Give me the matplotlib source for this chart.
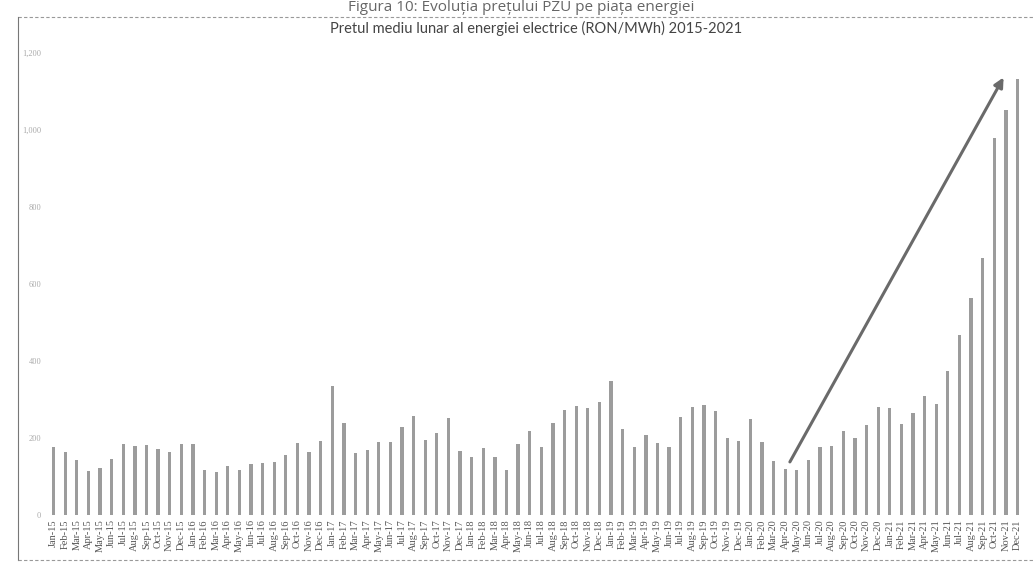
import matplotlib.pyplot as plt
from matplotlib.lines import Line2D

# month labels Jan-15 .. Dec-21
months = ["Jan", "Feb", "Mar", "Apr", "May", "Jun",
          "Jul", "Aug", "Sep", "Oct", "Nov", "Dec"]
years = ["15", "16", "17", "18", "19", "20", "21"]
labels = [m + "-" + y for y in years for m in months]

# average monthly price, RON/MWh
prices = [
    177, 164, 143, 115, 121, 145, 184, 179, 183, 172, 163, 184,   # 2015
    184, 117, 112, 127, 117, 132, 136, 138, 156, 187, 164, 191,   # 2016
    335, 238, 162, 169, 189, 190, 228, 257, 195, 214, 252, 166,   # 2017
    151, 173, 151, 117, 184, 217, 177, 238, 272, 283, 278, 294,   # 2018
    348, 224, 177, 209, 186, 177, 255, 280, 285, 270, 201, 192,   # 2019
    250, 190, 141, 120, 117, 143, 177, 179, 219, 201, 233, 280,   # 2020
    277, 237, 266, 310, 289, 373, 467, 562, 668, 977, 1051, 1132, # 2021
]

yticks = [0, 200, 400, 600, 800, 1000, 1200]

# trend arrow (start and end in data units)
arrow_start = (63.4, 138)
arrow_end = (81.8, 1135)

fig = plt.figure(figsize=(10.33, 5.63), dpi=100)
ax = fig.add_axes([0.044, 0.085, 0.95, 0.822])

x = range(len(prices))
ax.bar(x, prices, width=0.28, color="#9c9c9c")

ax.set_xlim(-0.7, len(prices) - 0.2)
ax.set_ylim(0, 1200)
ax.set_xticks(list(x))
ax.set_xticklabels(labels, rotation=90, fontsize=7.5, family="Liberation Serif",
                   color="#555555")
ax.set_yticks(yticks)
ax.set_yticklabels([f"{v:,}" for v in yticks], fontsize=6, family="Liberation Serif",
                   color="#aaaaaa")
ax.tick_params(length=0, pad=3)
for s in ax.spines.values():
    s.set_visible(False)

ax.annotate("", xy=arrow_end, xytext=arrow_start,
            arrowprops=dict(arrowstyle="-|>", color="#6a6a6a", lw=2.2,
                            mutation_scale=14, shrinkA=0, shrinkB=0))

ax.set_title("Pretul mediu lunar al energiei electrice (RON/MWh) 2015-2021",
             fontsize=10.5, family="Lato", color="#444444", pad=14)

# scanned page frame and caption at the top edge
fig.text(0.505, 1.0, "Figura 10: Evoluția prețului PZU pe piața energiei",
         ha="center", va="top", fontsize=11, family="Open Sans", color="#666666")
fig.add_artist(Line2D([18 / 1033, 1.0], [1 - 17 / 563] * 2, color="#999999",
                      lw=0.8, ls=(0, (3, 2))))
fig.add_artist(Line2D([18 / 1033] * 2, [3 / 563, 1 - 17 / 563], color="#777777", lw=0.8))
fig.add_artist(Line2D([18 / 1033, 1.0], [3 / 563] * 2, color="#999999",
                      lw=0.8, ls=(0, (3, 2))))

plt.savefig("out.png", dpi=100)
